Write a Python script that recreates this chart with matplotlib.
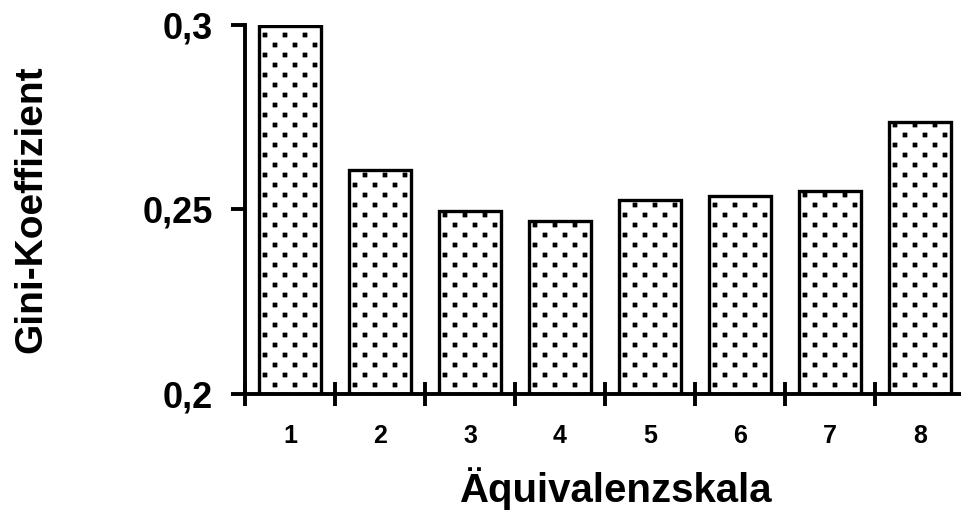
import matplotlib
matplotlib.use("Agg")
import matplotlib.pyplot as plt
import matplotlib.hatch as mhatch
import numpy as np
from matplotlib.path import Path

plt.rcParams["font.family"] = ["Liberation Sans", "DejaVu Sans"]
plt.rcParams["hatch.linewidth"] = 0.3

scales = ["1", "2", "3", "4", "5", "6", "7", "8"]
gini = [0.2996, 0.2607, 0.2495, 0.2467, 0.2525, 0.2537, 0.2550, 0.2738]


class SquareDots(mhatch.HatchPatternBase):
    """'.' hatch as small square dots on a staggered grid (like the old Excel pattern)."""
    rows, cols, side = 10, 5, 0.042

    def __init__(self, hatch, density):
        self.num_vertices = 5 * self.rows * self.cols if "." in hatch else 0

    def set_vertices_and_codes(self, vertices, codes):
        h = self.side / 2
        sq = np.array([[-h, -h], [h, -h], [h, h], [-h, h], [-h, -h]])
        sq_codes = [Path.MOVETO, Path.LINETO, Path.LINETO, Path.LINETO, Path.CLOSEPOLY]
        verts, cds = [], []
        for r in range(self.rows):
            y = (r + 0.5) / self.rows
            shift = 0.5 / self.cols if r % 2 else 0.0
            for c in range(self.cols):
                x = (c + 0.25) / self.cols + shift
                verts.append(sq + [x, y])
                cds.extend(sq_codes)
        vertices[:] = np.concatenate(verts)
        codes[:] = cds


mhatch._hatch_types = [t for t in mhatch._hatch_types
                       if t is not mhatch.SmallFilledCircles] + [SquareDots]

fig = plt.figure(figsize=(9.61, 5.19), dpi=100)
ax = fig.add_axes([0.2549, 0.2418, 0.7492, 0.71])

x = list(range(1, len(scales) + 1))
ax.bar(x, [g - 0.2 for g in gini], bottom=0.2, width=0.68,
       facecolor="white", edgecolor="black", linewidth=2.4, hatch=".")

ax.set_xlim(0.5, 8.5)
ax.set_ylim(0.2, 0.3)
ax.set_yticks([0.2, 0.25, 0.3])
ax.set_yticklabels(["0,2", "0,25", "0,3"], fontsize=26, fontweight="bold")
ax.set_xticks(x)
ax.set_xticklabels(scales, fontsize=18, fontweight="bold")
ax.tick_params(axis="x", length=0, pad=22)
ax.set_xticks([i + 0.5 for i in range(0, 9)], minor=True)
ax.tick_params(axis="x", which="minor", direction="inout", length=17, width=2.8)
ax.tick_params(axis="y", direction="out", length=10, width=2.8, pad=13)

for s in ["top", "right"]:
    ax.spines[s].set_visible(False)
for s in ["left", "bottom"]:
    ax.spines[s].set_linewidth(2.8)

ax.set_xlabel("Äquivalenzskala", fontsize=29, fontweight="bold")
ax.xaxis.set_label_coords(0.515, -0.2)
ax.set_ylabel("Gini-Koeffizient", fontsize=28, fontweight="bold")
ax.yaxis.set_label_coords(-0.272, 0.5)

fig.savefig("out.png", dpi=100)
